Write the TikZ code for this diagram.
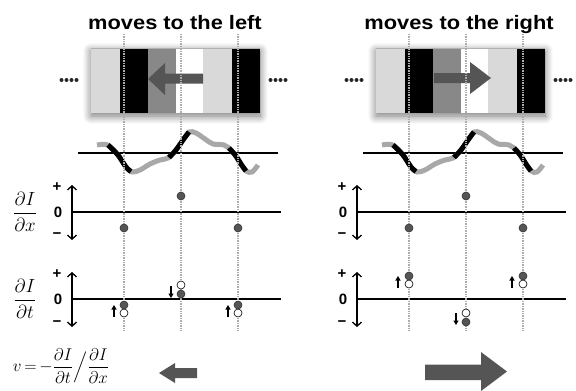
\RequirePackage{fix-cm}
\documentclass[tikz,border=0pt]{standalone}
\usepackage{amsmath}
\usepackage{fontspec}
\usepackage{graphicx}
\newfontfamily\hv{Liberation Sans}
\usetikzlibrary{arrows.meta,shadows.blur}
\definecolor{dk}{HTML}{555555}
\definecolor{lt}{HTML}{D9D9D9}
\definecolor{md}{HTML}{888888}
\definecolor{wv}{HTML}{A8A8A8}
\begin{document}
\begin{tikzpicture}[x=1pt,y=-1pt,
  fdot/.style={circle,fill=dk,draw=black!80,line width=0.6pt,inner sep=0pt,minimum size=8pt},
  odot/.style={circle,fill=white,draw=black,line width=0.6pt,inner sep=0pt,minimum size=8pt},
  tickl/.style={font=\hv\bfseries\fontsize{15}{15}\selectfont,inner sep=0pt},
  ttl/.style={font=\hv\bfseries\fontsize{19.5}{20}\selectfont,inner sep=0pt,anchor=base},
  axisline/.style={line width=1.6pt},
  vaxis/.style={line width=1.3pt,{Straight Barb[length=4pt,width=9pt]}-{Straight Barb[length=4pt,width=9pt]}},
  guide/.style={gray!65,line width=1.1pt,dash pattern=on 1pt off 0.7pt},
  bigarrow/.style={fill=dk,draw=none},
  sarrow/.style={line width=1.3pt,-{Triangle[length=4.5pt,width=5pt]}},
  wavegray/.style={wv,line width=5pt},
  waveblack/.style={black,line width=5pt},
  fracl/.style={inner sep=0pt,font=\fontsize{19}{23}\selectfont}
]
\useasboundingbox (0,0) rectangle (576,391);

% titles
\node[ttl] (t1) at (175,29) {\scalebox{1.12}[1]{moves to the left}};
\node[ttl] (t2) at (459,29) {\scalebox{1.12}[1]{moves to the right}};

\foreach \o/\n in {0/L,285/R}{
\begin{scope}[xshift=\o pt]
  % box with shadow
  \path[blur shadow={shadow xshift=0pt,shadow yshift=-3pt,shadow blur radius=8pt,shadow opacity=55,shadow blur steps=12},fill=white] (91,48) rectangle (260,113);
  \fill[lt] (91,48) rectangle (120,113);
  \fill[black] (120,48) rectangle (148,113);
  \fill[md] (148,48) rectangle (176,113);
  \fill[white] (176,48) rectangle (203,113);
  \fill[lt] (203,48) rectangle (232,113);
  \fill[black] (232,48) rectangle (260,113);
  \draw[gray!60,line width=0.5pt] (91,48.3) -- (260,48.3);
  % dots
  \foreach \k in {0,...,3}{
    \fill[black!85] (61.5+5*\k,80) circle (2pt);
    \fill[black!85] (270.5+5*\k,80) circle (2pt);
  }
  % wave
  \draw[axisline] (78,153) -- (278,153);
  \draw[wavegray] plot[smooth,tension=0.55] coordinates {(97,145) (108,145) (118,155) (126,167) (132,172) (140,170) (150,164) (160,160) (168,158) (176,150) (183,140) (189,132) (196,133) (205,139) (213,144) (224,145) (232,151) (240,163) (246,171) (252,172) (258,165)};
  \draw[waveblack] plot[smooth,tension=0.55] coordinates {(108,145) (118,155) (126,167) (131,171.5)};
  \draw[waveblack] plot[smooth,tension=0.55] coordinates {(169,157.5) (176,150) (183,140) (189,132)};
  \draw[waveblack] plot[smooth,tension=0.55] coordinates {(229,148) (236,156) (241,164) (246,171)};
  % axes
  \draw[axisline] (72,212) -- (281,212);
  \draw[axisline] (72,299) -- (281,299);
  \draw[vaxis] (72,240) -- (72,185);
  \draw[vaxis] (72,327) -- (72,272);
  \node[tickl] (p1\n) at (57,187) {+};
  \node[tickl] (z1\n) at (58,212) {0};
  \node[tickl] (m1\n) at (57,236) {−};
  \node[tickl] (p2\n) at (57,274) {+};
  \node[tickl] (z2\n) at (58,299) {0};
  \node[tickl] (m2\n) at (57,324) {−};
\end{scope}
}

% arrows inside boxes
\fill[bigarrow] (148,79) -- (165,63) -- (165,73.5) -- (203,73.5) -- (203,83.5) -- (165,83.5) -- (165,95) -- cycle;
\fill[bigarrow] (491,78) -- (470,62) -- (470,73) -- (434,73) -- (434,83) -- (470,83) -- (470,94) -- cycle;

% guides
\foreach \gx in {124,181,238,409,466,523}{
  \draw[guide] (\gx,34) -- (\gx,330);
}

% dI/dx dots
\node[fdot] (xa) at (124,228) {};
\node[fdot] (xb) at (181,196) {};
\node[fdot] (xc) at (238,228) {};
\node[fdot] (xd) at (409,228) {};
\node[fdot] (xe) at (466,196) {};
\node[fdot] (xf) at (523,228) {};

% dI/dt dots left
\node[odot] (ta2) at (124,313) {};
\node[fdot] (ta1) at (124,305) {};
\draw[sarrow] (114,317) -- (114,305);
\node[odot] (tb2) at (181,285) {};
\node[fdot] (tb1) at (181,294) {};
\draw[sarrow] (171,286) -- (171,298);
\node[odot] (tc2) at (238,313) {};
\node[fdot] (tc1) at (238,305) {};
\draw[sarrow] (228,317) -- (228,305);
% dI/dt dots right
\node[odot] (td2) at (409,284) {};
\node[fdot] (td1) at (409,276) {};
\draw[sarrow] (398,288) -- (398,276);
\node[odot] (te2) at (466,313) {};
\node[fdot] (te1) at (466,322) {};
\draw[sarrow] (456,313) -- (456,325);
\node[odot] (tf2) at (523,284) {};
\node[fdot] (tf1) at (523,276) {};
\draw[sarrow] (512,288) -- (512,276);

% fraction labels
\node[fracl] (fx) at (25,212) {$\dfrac{\partial I}{\partial x}$};
\node[fracl] (ft) at (25,299) {$\dfrac{\partial I}{\partial t}$};
\node[fracl,font=\fontsize{17}{20}\selectfont] (fv) at (61,366) {$v\mkern-2mu=\mkern-2mu-\dfrac{\partial I}{\partial t}\Big/\dfrac{\partial I}{\partial x}$};

% bottom arrows
\fill[bigarrow] (159,373) -- (175,363) -- (175,368) -- (197,368) -- (197,378) -- (175,378) -- (175,383) -- cycle;
\fill[bigarrow] (507,371.5) -- (481,352) -- (481,364.5) -- (425,364.5) -- (425,380) -- (481,380) -- (481,391) -- cycle;
\end{tikzpicture}
\end{document}
